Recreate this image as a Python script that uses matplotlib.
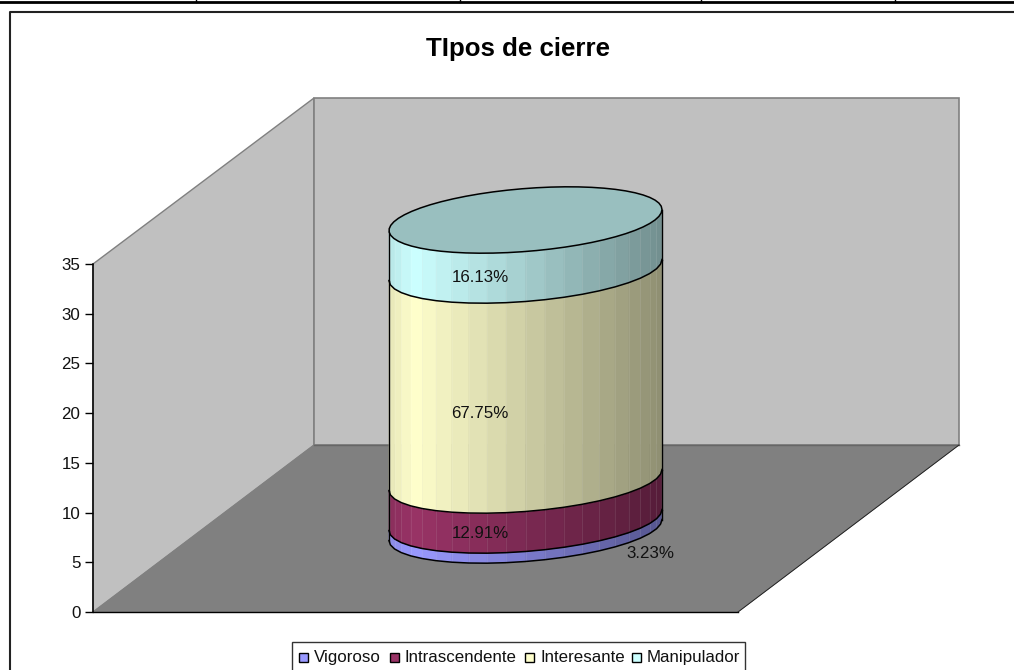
import matplotlib
matplotlib.use("Agg")
import matplotlib.pyplot as plt
import numpy as np
from matplotlib.patches import Polygon, Rectangle

plt.rcParams["font.family"] = ["Liberation Sans", "DejaVu Sans"]

# chart data
categories = ["Vigoroso", "Intrascendente", "Interesante", "Manipulador"]
values = [1, 4, 21, 5]
labels = ["3.23%", "12.91%", "67.75%", "16.13%"]
colors = ["#9999FF", "#993366", "#FFFFCC", "#CCFFFF"]
y_ticks = [0, 5, 10, 15, 20, 25, 30, 35]
title = "TIpos de cierre"

W, H = 1014, 670
fig = plt.figure(figsize=(W / 100, H / 100), dpi=100)
ax = fig.add_axes([0, 0, 1, 1])
ax.set_xlim(0, W)
ax.set_ylim(H, 0)
ax.axis("off")

# table rule left over at the top of the page, and chart frame
ax.plot([0, W], [2, 2], color="black", lw=2)
for x in [196, 460, 701, 895]:
    ax.plot([x, x], [0, 2], color="black", lw=1)
ax.plot([9.5, 9.5, W], [H, 12, 12], color="#222222", lw=1.5)

# walls and floor, all kept behind the cylinder
ax.add_patch(Polygon([(93, 264), (314, 98), (314, 445), (93, 612)], fc="#C0C0C0", ec="#808080", lw=1, zorder=0.5))
ax.add_patch(Polygon([(314, 98), (959, 98), (959, 445), (314, 445)], fc="#C0C0C0", ec="#808080", lw=1.2, zorder=0.5))
ax.add_patch(Polygon([(93, 612), (314, 445), (959, 445), (738, 612)], fc="#808080", ec="#808080", lw=0.5, zorder=0.6))
ax.plot([314, 959], [445, 445], color="#666666", lw=1, zorder=0.7)
ax.plot([93, 738], [612, 612], color="black", lw=1, zorder=0.7)
ax.plot([738, 959], [612, 445], color="#222222", lw=0.7, zorder=0.7)

# y axis, a real one lined up with the left wall
yax = fig.add_axes([93 / W, 1 - 612 / H, 0.001, (612 - 264) / H])
yax.patch.set_alpha(0)
yax.set_ylim(0, 35)
yax.set_yticks(y_ticks)
yax.set_xticks([])
for s in ["top", "right", "bottom"]:
    yax.spines[s].set_visible(False)
yax.spines["left"].set_linewidth(1.1)
yax.tick_params(axis="y", length=6, width=1, labelsize=12.2, pad=3, labelcolor="#111111")

# cylinder geometry in pixels
cx, a, tilt, b = 525.5, 136.5, 10.5, 31.5
y_base = 530.0
px_per_unit = 10.0
n_facets = 22


def rim(t, cy):
    return cx + a * np.cos(t), cy - tilt * np.cos(t) + b * np.sin(t)


def shade(hex_color, x):
    frac = (x - (cx - a)) / (2 * a)
    f = np.interp(frac, [0, 0.09, 1], [0.9, 1.0, 0.56])
    return tuple(np.array(matplotlib.colors.to_rgb(hex_color)) * f)


ts = np.linspace(np.pi, 0, n_facets + 1)
tops = y_base - px_per_unit * np.cumsum(values)
bottoms = tops + px_per_unit * np.array(values)

for col, top, bot in zip(colors, tops, bottoms):
    for t0, t1 in zip(ts[:-1], ts[1:]):
        x0, y0 = rim(t0, top)
        x1, y1 = rim(t1, top)
        x2, y2 = rim(t1, bot)
        x3, y3 = rim(t0, bot)
        fc = shade(col, (x0 + x1) / 2)
        ax.add_patch(Polygon([(x0, y0), (x1, y1), (x2, y2), (x3, y3)], fc=fc, ec=fc, lw=0.4))
        ax.plot([x1, x2], [y1, y2], color="white", lw=0.5, alpha=0.12)
    xb, yb = rim(ts, bot)
    ax.plot(xb, yb, color="black", lw=1.1)
    xt, yt = rim(ts, top)
    ax.plot([xt[0], xb[0]], [yt[0], yb[0]], color="black", lw=1)
    ax.plot([xt[-1], xb[-1]], [yt[-1], yb[-1]], color="black", lw=1)

# top cap
tc = np.linspace(0, 2 * np.pi, 60)
xc, yc = rim(tc, tops[-1])
ax.add_patch(Polygon(np.column_stack([xc, yc]), fc=tuple(np.array(matplotlib.colors.to_rgb(colors[-1])) * 0.75), ec="black", lw=1.1, zorder=3))

# value labels
label_xy = [(650, 553), (480, 533), (480, 413), (480, 278)]
for (lx, ly), txt in zip(label_xy, labels):
    ax.text(lx, ly, txt, ha="center", va="center", fontsize=12.2, color="#111111")

ax.text(518, 56, title, ha="center", va="baseline", fontsize=18.6, fontweight="bold")

# legend
ax.add_patch(Rectangle((291.5, 642), 453.5, 40, fc="white", ec="#333333", lw=1))
for ex, col, name in zip([298.5, 389.5, 524.5, 631.5], colors, categories):
    ax.add_patch(Rectangle((ex, 653), 9, 9, fc=col, ec="black", lw=1))
    ax.text(ex + 15.5, 662, name, ha="left", va="baseline", fontsize=12.2, color="#111111")

fig.savefig("out.png", dpi=100)
